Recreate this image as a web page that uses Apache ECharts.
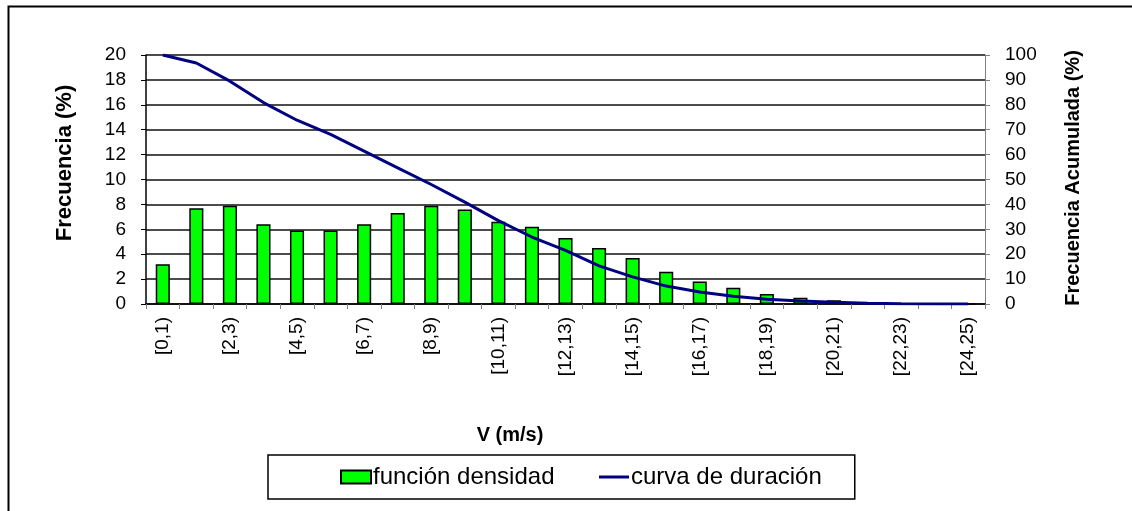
<!DOCTYPE html>
<html>
<head>
<meta charset="utf-8">
<script src="https://cdn.jsdelivr.net/npm/echarts@6/dist/echarts.min.js"></script>
<style>
  html, body { margin: 0; padding: 0; background: #fff; }
  #main { width: 1132px; height: 511px; }
</style>
</head>
<body>
<div id="main"></div>
<script>
const categories = [
  "[0,1)", "[1,2)", "[2,3)", "[3,4)", "[4,5)", "[5,6)", "[6,7)", "[7,8)", "[8,9)",
  "[9,10)", "[10,11)", "[11,12)", "[12,13)", "[13,14)", "[14,15)", "[15,16)",
  "[16,17)", "[17,18)", "[18,19)", "[19,20)", "[20,21)", "[21,22)", "[22,23)",
  "[23,24)", "[24,25)",
];
// frecuencia por intervalo (%)
const densidad = [
  3.2, 7.7, 7.9, 6.4, 5.9, 5.9, 6.4, 7.3, 7.9, 7.6, 6.6, 6.2, 5.3,
  4.5, 3.7, 2.6, 1.8, 1.3, 0.8, 0.5, 0.3, 0.15, 0.05, 0.02, 0,
];
// frecuencia acumulada (%)
const duracion = [
  100, 96.8, 89.5, 80.9, 73.8, 68.1, 61.4, 54.7, 48, 40.9, 33.5, 26.9, 21.5,
  15.3, 10.9, 7.2, 4.8, 3.1, 1.9, 1.2, 0.7, 0.3, 0.1, 0.05, 0,
];
const leftTicks = { min: 0, max: 20, interval: 2 };
const rightTicks = { min: 0, max: 100, interval: 10 };

const font = "'Liberation Sans', Arial, sans-serif";

const option = {
  animation: false,
  backgroundColor: "#fff",
  textStyle: { fontFamily: font, color: "#000" },
  grid: { left: 146, right: 147, top: 55, bottom: 207 },
  legend: {
    left: 268,
    top: 455,
    padding: [10, 33, 10, 72],
    itemGap: 43,
    itemWidth: 30,
    itemHeight: 13,
    borderColor: "#000",
    borderWidth: 1.5,
    textStyle: { fontFamily: font, fontSize: 24, color: "#000", padding: [0, 0, 0, -3] },
    data: [
      { name: "función densidad", icon: "rect" },
      {
        name: "curva de duración",
        itemStyle: { opacity: 0 },
        lineStyle: { color: "#000080", width: 3 },
      },
    ],
  },
  xAxis: {
    type: "category",
    data: categories,
    boundaryGap: true,
    axisLine: { lineStyle: { color: "#000", width: 1.5 } },
    axisTick: { show: true, interval: 0, length: 5, lineStyle: { color: "#808080" } },
    axisLabel: {
      interval: 1,
      rotate: 90,
      margin: 13,
      fontFamily: font,
      fontSize: 19,
      color: "#000",
    },
    splitLine: { show: false },
  },
  yAxis: [
    {
      type: "value",
      ...leftTicks,
      axisLine: { show: true, lineStyle: { color: "#000", width: 1.5 } },
      axisTick: { show: true, length: 5, lineStyle: { color: "#000" } },
      axisLabel: { margin: 20, fontFamily: font, fontSize: 19, color: "#000" },
      splitLine: { show: true, lineStyle: { color: "#111", width: 1.5 } },
    },
    {
      type: "value",
      ...rightTicks,
      position: "right",
      axisLine: { show: true, lineStyle: { color: "#808080", width: 1 } },
      axisTick: { show: true, length: 5, lineStyle: { color: "#808080" } },
      axisLabel: { margin: 20, fontFamily: font, fontSize: 19, color: "#000" },
      splitLine: { show: false },
    },
  ],
  series: [
    {
      name: "función densidad",
      type: "bar",
      yAxisIndex: 0,
      data: densidad,
      barWidth: "42%",
      itemStyle: { color: "#00ff00", borderColor: "#000", borderWidth: 1.5 },
    },
    {
      name: "curva de duración",
      type: "line",
      yAxisIndex: 1,
      data: duracion,
      symbol: "none",
      lineStyle: { color: "#000080", width: 3 },
      itemStyle: { color: "#000080" },
      z: 3,
    },
  ],
  graphic: [
    {
      type: "rect",
      left: 6,
      top: 4,
      shape: { width: 1200, height: 600 },
      style: { fill: "none", stroke: "#000", lineWidth: 2 },
      silent: true,
    },
    {
      type: "text",
      x: 65,
      y: 163,
      rotation: Math.PI / 2,
      style: {
        text: "Frecuencia (%)",
        font: "bold 22px " + font,
        fill: "#000",
        textAlign: "center",
        textVerticalAlign: "middle",
      },
    },
    {
      type: "text",
      x: 1073,
      y: 178,
      rotation: Math.PI / 2,
      style: {
        text: "Frecuencia Acumulada (%)",
        font: "bold 20px " + font,
        fill: "#000",
        textAlign: "center",
        textVerticalAlign: "middle",
      },
    },
    {
      type: "text",
      x: 510,
      y: 435,
      style: {
        text: "V (m/s)",
        font: "bold 20px " + font,
        fill: "#000",
        textAlign: "center",
        textVerticalAlign: "middle",
      },
    },
  ],
};

const myChart = echarts.init(document.getElementById("main"));
myChart.setOption(option);
</script>
</body>
</html>
